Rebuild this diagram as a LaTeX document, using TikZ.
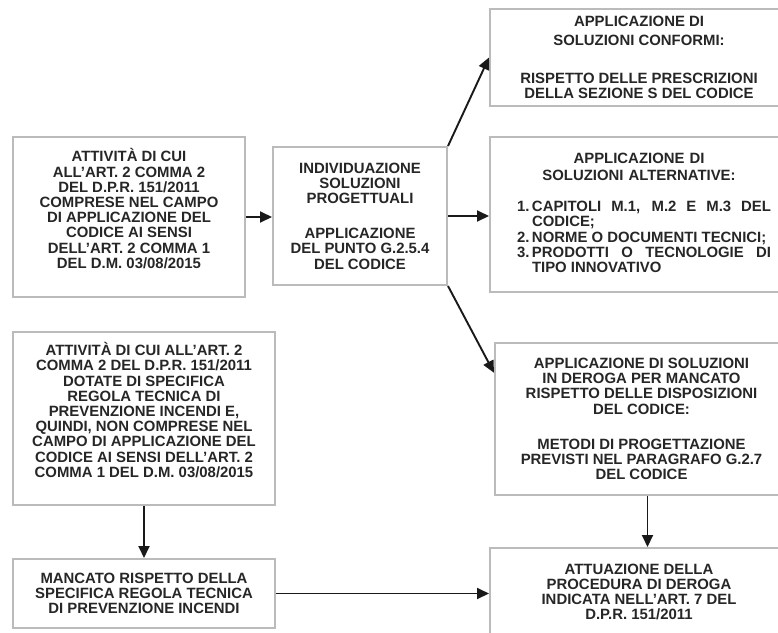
\documentclass[tikz,border=0pt]{standalone}
\usepackage{fontspec}
\setmainfont{Liberation Sans}
\usetikzlibrary{arrows.meta,calc}

\definecolor{txtgray}{HTML}{262626}
\definecolor{linegray}{HTML}{BBBBBB}

\newcommand{\solitem}[1]{\par\hangindent=15pt\hangafter=1\noindent\makebox[15pt][l]{#1}}

\tikzset{
  box/.style={draw=linegray, line width=2pt, text=txtgray, align=center, inner sep=0pt,
    font=\bfseries\fontsize{14.9}{15.2}\selectfont},
  arr/.style={line width=1.9pt, draw=black!90, -{Triangle[length=12pt,width=11pt]}},
}

\begin{document}
\begin{tikzpicture}[x=1pt,y=-1pt]
    \useasboundingbox (0,0) rectangle (778,632);
    \clip (0,0) rectangle (778,632);

    % Left column
    \node [box, minimum width=232, minimum height=160] (att) at (129,217)
      {ATTIVITÀ DI CUI\\ALL'ART. 2 COMMA 2\\DEL D.P.R. 151/2011\\COMPRESE NEL CAMPO\\DI APPLICAZIONE DEL\\CODICE AI SENSI\\DELL'ART. 2 COMMA 1\\DEL D.M. 03/08/2015\\[2pt]\mbox{}};
    \node [box, minimum width=262, minimum height=173] (dotate) at (144,418.5)
      {ATTIVITÀ DI CUI ALL'ART. 2\\COMMA 2 DEL D.P.R. 151/2011\\DOTATE DI SPECIFICA\\REGOLA TECNICA DI\\PREVENZIONE INCENDI E,\\QUINDI, NON COMPRESE NEL\\CAMPO DI APPLICAZIONE DEL\\CODICE AI SENSI DELL'ART. 2\\COMMA 1 DEL D.M. 03/08/2015\\[2pt]\mbox{}};
    \node [box, minimum width=262, minimum height=69] (mancato) at (144,593.5)
      {MANCATO RISPETTO DELLA\\SPECIFICA REGOLA TECNICA\\DI PREVENZIONE INCENDI};

    % Middle box
    \node [box, minimum width=174, minimum height=138] (indiv) at (360,216)
      {INDIVIDUAZIONE\\SOLUZIONI\\PROGETTUALI\\[20pt]APPLICAZIONE\\DEL PUNTO G.2.5.4\\DEL CODICE};

    % Right column
    \node [box, minimum width=298, minimum height=97] (conf) at (639,57.5)
      {APPLICAZIONE DI\\[3pt]SOLUZIONI CONFORMI:\\[23pt]RISPETTO DELLE PRESCRIZIONI\\DELLA SEZIONE S DEL CODICE};
    \node [box, minimum width=298, minimum height=155, text width=266] (altern) at (639,214.5)
      {{\centering APPLICAZIONE DI\\[1.5pt]SOLUZIONI ALTERNATIVE:\\[16pt]}
       \noindent\hspace*{10pt}\parbox[t]{254pt}{%
         \leftskip=0pt\rightskip=0pt\parfillskip=0pt plus 1fil\hyphenpenalty=10000
         \spaceskip=0pt\xspaceskip=0pt
         \solitem{1.}CAPITOLI M.1, M.2 E M.3 DEL\linebreak CODICE;
         \solitem{2.}NORME O DOCUMENTI TECNICI;
         \solitem{3.}PRODOTTI O TECNOLOGIE DI\linebreak TIPO INNOVATIVO\par}\\[2pt]\mbox{}};
    \node [box, minimum width=293, minimum height=152] (deroga) at (641.5,419)
      {APPLICAZIONE DI SOLUZIONI\\IN DEROGA PER MANCATO\\RISPETTO DELLE DISPOSIZIONI\\DEL CODICE:\\[20pt]METODI DI PROGETTAZIONE\\PREVISTI NEL PARAGRAFO G.2.7\\DEL CODICE};
    \node [box, minimum width=298, minimum height=88] (attua) at (639,592)
      {ATTUAZIONE DELLA\\PROCEDURA DI DEROGA\\INDICATA NELL'ART. 7 DEL\\D.P.R. 151/2011};

    % Arrows
    \draw [arr] (att.east) -- (att.east -| indiv.west);
    \draw [arr] (indiv.east) -- (indiv.east -| altern.west);
    \draw [arr] (indiv.north east) -- (conf.west);
    \draw [arr] (indiv.south east) -- ($(deroga.north west)!0.2!(deroga.south west)$);
    \draw [arr] (dotate.south) -- (mancato.north);
    \draw [arr] (mancato.east) -- (mancato.east -| attua.west);
    \draw [arr] ([xshift=6pt]deroga.south) -- ([xshift=6pt]deroga.south |- attua.north);

\end{tikzpicture}
\end{document}
